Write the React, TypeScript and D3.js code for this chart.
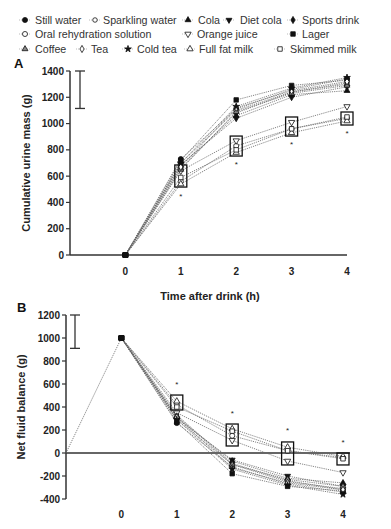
import React from "react";
import * as d3 from "d3";

const times = [0, 1, 2, 3, 4];
const tickLabelsX = ["0", "1", "2", "3", "4"];
const yTicksA = [0, 200, 400, 600, 800, 1000, 1200, 1400];
const yTicksB = [-400, -200, 0, 200, 400, 600, 800, 1000, 1200];

const drinkNames = [
  "Still water", "Sparkling water", "Cola", "Diet cola", "Sports drink",
  "Oral rehydration solution", "Orange juice", "Lager",
  "Coffee", "Tea", "Cold tea", "Full fat milk", "Skimmed milk",
];

// Panel A: cumulative urine mass (g)
const urineStill = [0, 730, 1110, 1260, 1340];
const urineSparkling = [0, 700, 1100, 1240, 1300];
const urineCola = [0, 680, 1060, 1220, 1250];
const urineDietCola = [0, 690, 1040, 1200, 1280];
const urineSports = [0, 660, 1080, 1240, 1310];
const urineORS = [0, 560, 830, 960, 1040];
const urineOJ = [0, 640, 870, 1010, 1130];
const urineLager = [0, 720, 1180, 1290, 1330];
const urineCoffee = [0, 650, 1090, 1230, 1290];
const urineTea = [0, 670, 1120, 1250, 1320];
const urineColdTea = [0, 700, 1130, 1270, 1350];
const urineFullMilk = [0, 540, 780, 930, 1020];
const urineSkimMilk = [0, 590, 800, 960, 1050];

// Panel B: net fluid balance (g)
const balStill = [1000, 260, -120, -270, -340];
const balSparkling = [1000, 290, -100, -250, -310];
const balCola = [1000, 310, -70, -220, -260];
const balDietCola = [1000, 300, -60, -200, -290];
const balSports = [1000, 330, -90, -240, -320];
const balORS = [1000, 420, 150, 20, -40];
const balOJ = [1000, 350, 110, -70, -170];
const balLager = [1000, 270, -180, -290, -330];
const balCoffee = [1000, 320, -100, -230, -290];
const balTea = [1000, 310, -130, -260, -320];
const balColdTea = [1000, 290, -140, -280, -360];
const balFullMilk = [1000, 450, 210, 50, -30];
const balSkimMilk = [1000, 400, 190, 20, -50];

// significance boxes and asterisks
const boxTimes = [1, 2, 3, 4];
const boxTopA = [685, 905, 1050, 1088];
const boxBottomA = [517, 753, 905, 989];
const starA = [457, 700, 852, 936];
const boxTopB = [504, 252, 96, 0];
const boxBottomB = [374, 61, -104, -104];
const starB = [610, 360, 210, 105];

const errA = [1400, 1115];
const errB = [1200, 910];
const intakeLineB = [[-1, 0], [0, 1000]];

const urineSeries = [urineStill, urineSparkling, urineCola, urineDietCola, urineSports, urineORS, urineOJ, urineLager, urineCoffee, urineTea, urineColdTea, urineFullMilk, urineSkimMilk];
const balSeries = [balStill, balSparkling, balCola, balDietCola, balSports, balORS, balOJ, balLager, balCoffee, balTea, balColdTea, balFullMilk, balSkimMilk];

type Mk = { type: any; fill: string; rot?: number; size: number };
const markers: Mk[] = [
  { type: d3.symbolCircle, fill: "#111", size: 20 },
  { type: d3.symbolCircle, fill: "#fff", size: 16 },
  { type: d3.symbolTriangle, fill: "#111", size: 15 },
  { type: d3.symbolTriangle, fill: "#111", rot: 180, size: 15 },
  { type: d3.symbolDiamond, fill: "#111", size: 15 },
  { type: d3.symbolCircle, fill: "#fff", size: 20 },
  { type: d3.symbolTriangle, fill: "#fff", rot: 180, size: 17 },
  { type: d3.symbolSquare, fill: "#111", size: 20 },
  { type: d3.symbolTriangle, fill: "#888", size: 15 },
  { type: d3.symbolDiamond, fill: "#fff", size: 15 },
  { type: d3.symbolStar, fill: "#111", size: 14 },
  { type: d3.symbolTriangle, fill: "#fff", size: 17 },
  { type: d3.symbolSquare, fill: "#fff", size: 20 },
];

const font = "'Liberation Sans', Arial, sans-serif";

function Marker({ x, y, i }: { x: number; y: number; i: number }) {
  const m = markers[i];
  const path = d3.symbol().type(m.type).size(m.size)()!;
  return (
    <path
      d={path}
      transform={`translate(${x},${y}) rotate(${m.rot || 0})`}
      fill={m.fill}
      stroke="#111"
      strokeWidth={0.8}
    />
  );
}

const legendRows = [
  [
    { i: 0, mx: 25, tx: 35 }, { i: 1, mx: 95, tx: 103 }, { i: 2, mx: 188, tx: 198 },
    { i: 3, mx: 229, tx: 240 }, { i: 4, mx: 293, tx: 302 },
  ],
  [{ i: 5, mx: 25, tx: 35 }, { i: 6, mx: 188, tx: 197 }, { i: 7, mx: 293, tx: 302 }],
  [
    { i: 8, mx: 25, tx: 35 }, { i: 9, mx: 82, tx: 91 }, { i: 10, mx: 128, tx: 137 },
    { i: 11, mx: 190, tx: 199 }, { i: 12, mx: 280, tx: 290 },
  ],
];
const legendY = [20, 34, 49];

export default function App() {
  const xA = d3.scaleLinear().domain([-1, 4]).range([70, 347]);
  const yA = d3.scaleLinear().domain([0, 1400]).range([255, 71]);
  const xB = d3.scaleLinear().domain([-1, 4]).range([66, 343]);
  const yB = d3.scaleLinear().domain([-400, 1200]).range([499, 315]);
  const axisCol = "#333";
  const lineCol = "#666";

  const lineA = d3.line<number>().x((_, k) => xA(times[k])).y((d) => yA(d));
  const lineB = d3.line<number>().x((_, k) => xB(times[k])).y((d) => yB(d));
  const intakeB = d3.line<number[]>().x((d) => xB(d[0])).y((d) => yB(d[1]));

  return (
    <svg width={391} height={529} style={{ position: "absolute", left: 0, top: 0, background: "#fff" }} fontFamily={font}>
      <rect width={391} height={529} fill="#fff" />
      {/* Legend */}
      {legendRows.map((row, r) =>
        row.map((it) => (
          <g key={`lg${r}-${it.i}`}>
            <line x1={it.mx - 6} x2={it.mx + 6} y1={legendY[r]} y2={legendY[r]} stroke="#aaa" strokeWidth={0.8} strokeDasharray="1,1" />
            <Marker x={it.mx} y={legendY[r]} i={it.i} />
            <text x={it.tx} y={legendY[r] + 4} fontSize={10.7} fill="#333">{drinkNames[it.i]}</text>
          </g>
        ))
      )}

      {/* Panel A */}
      <text x={14} y={68} fontSize={13} fontWeight="bold" fill="#111">A</text>
      <line x1={70} x2={70} y1={yA(1400)} y2={yA(0)} stroke={axisCol} strokeWidth={1.5} />
      <line x1={70} x2={xA(4)} y1={yA(0)} y2={yA(0)} stroke={axisCol} strokeWidth={1.5} />
      {yTicksA.map((t) => (
        <g key={`ya${t}`}>
          <line x1={66} x2={70} y1={yA(t)} y2={yA(t)} stroke={axisCol} strokeWidth={1.2} />
          <text x={64} y={yA(t) + 3.5} fontSize={10} fontWeight="bold" textAnchor="end" fill="#222">{t}</text>
        </g>
      ))}
      {times.map((t, k) => (
        <text key={`xa${t}`} x={xA(t)} y={275} fontSize={10} fontWeight="bold" textAnchor="middle" fill="#222">{tickLabelsX[k]}</text>
      ))}
      <text transform={`translate(30,${yA(700)}) rotate(-90)`} fontSize={11} fontWeight="bold" textAnchor="middle" fill="#222">Cumulative urine mass (g)</text>
      <text x={210} y={300} fontSize={11} fontWeight="bold" textAnchor="middle" fill="#222">Time after drink (h)</text>
      {/* error bar A */}
      <line x1={80} x2={80} y1={yA(errA[0])} y2={yA(errA[1])} stroke={axisCol} strokeWidth={1.3} />
      <line x1={75} x2={85} y1={yA(errA[0])} y2={yA(errA[0])} stroke={axisCol} strokeWidth={1.3} />
      <line x1={75} x2={85} y1={yA(errA[1])} y2={yA(errA[1])} stroke={axisCol} strokeWidth={1.3} />
      {urineSeries.map((s, i) => (
        <path key={`la${i}`} d={lineA(s)!} fill="none" stroke={lineCol} strokeWidth={0.8} strokeDasharray="1.2,1" />
      ))}
      {boxTimes.map((t, k) => (
        <g key={`ba${t}`}>
          <rect x={xA(t) - 6} y={yA(boxTopA[k])} width={12} height={yA(boxBottomA[k]) - yA(boxTopA[k])} fill="none" stroke="#111" strokeWidth={1.3} />
          <text x={xA(t)} y={yA(starA[k]) + 4} fontSize={8} textAnchor="middle" fill="#222">*</text>
        </g>
      ))}
      {urineSeries.map((s, i) =>
        s.map((v, k) => <Marker key={`ma${i}-${k}`} x={xA(times[k])} y={yA(v)} i={k === 0 ? 7 : i} />)
      )}

      {/* Panel B */}
      <text x={17} y={312} fontSize={13} fontWeight="bold" fill="#111">B</text>
      <line x1={66} x2={66} y1={yB(1200)} y2={yB(-400)} stroke={axisCol} strokeWidth={1.5} />
      <line x1={66} x2={350} y1={yB(0)} y2={yB(0)} stroke={axisCol} strokeWidth={1.5} />
      {yTicksB.map((t) => (
        <g key={`yb${t}`}>
          <line x1={62} x2={66} y1={yB(t)} y2={yB(t)} stroke={axisCol} strokeWidth={1.2} />
          <text x={60} y={yB(t) + 3.5} fontSize={10} fontWeight="bold" textAnchor="end" fill="#222">{t}</text>
        </g>
      ))}
      {times.map((t, k) => (
        <text key={`xb${t}`} x={xB(t)} y={518} fontSize={10} fontWeight="bold" textAnchor="middle" fill="#222">{tickLabelsX[k]}</text>
      ))}
      <text transform={`translate(25,${yB(400)}) rotate(-90)`} fontSize={11} fontWeight="bold" textAnchor="middle" fill="#222">Net fluid balance (g)</text>
      <line x1={75} x2={75} y1={yB(errB[0])} y2={yB(errB[1])} stroke={axisCol} strokeWidth={1.3} />
      <line x1={70} x2={80} y1={yB(errB[0])} y2={yB(errB[0])} stroke={axisCol} strokeWidth={1.3} />
      <line x1={70} x2={80} y1={yB(errB[1])} y2={yB(errB[1])} stroke={axisCol} strokeWidth={1.3} />
      <path d={intakeB(intakeLineB)!} fill="none" stroke={lineCol} strokeWidth={0.8} strokeDasharray="1.2,1" />
      {balSeries.map((s, i) => (
        <path key={`lb${i}`} d={lineB(s)!} fill="none" stroke={lineCol} strokeWidth={0.8} strokeDasharray="1.2,1" />
      ))}
      {boxTimes.map((t, k) => (
        <g key={`bb${t}`}>
          <rect x={xB(t) - 6} y={yB(boxTopB[k])} width={12} height={yB(boxBottomB[k]) - yB(boxTopB[k])} fill="none" stroke="#111" strokeWidth={1.3} />
          <text x={xB(t)} y={yB(starB[k]) + 4} fontSize={8} textAnchor="middle" fill="#222">*</text>
        </g>
      ))}
      {balSeries.map((s, i) =>
        s.map((v, k) => <Marker key={`mb${i}-${k}`} x={xB(times[k])} y={yB(v)} i={k === 0 ? 7 : i} />)
      )}
    </svg>
  );
}
